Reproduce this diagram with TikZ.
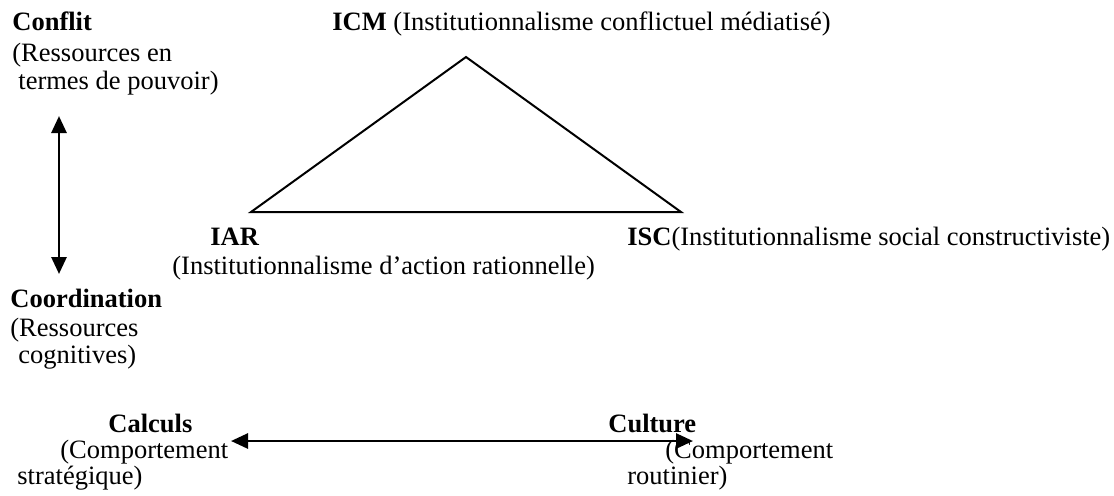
\documentclass[tikz,border=0pt]{standalone}
\usepackage{fontspec}
\setmainfont{Liberation Serif}
\usetikzlibrary{arrows.meta}
\tikzset{
    txt/.style={anchor=base west, inner sep=0pt, font=\fontsize{13.25}{15.2}\selectfont},
    dblarrow/.style={{Triangle[length=8.5pt,width=7.5pt]}-{Triangle[length=8.5pt,width=7.5pt]}, line width=1.4pt, black},
}
\newcommand{\Triangle}{
    \coordinate (icmpt) at (466,57);
    \coordinate (iarpt) at (251,212);
    \coordinate (iscpt) at (681,212);
    \draw[black, line width=1pt] (icmpt) -- (iscpt) -- (iarpt) -- cycle;
}
\begin{document}
\begin{tikzpicture}[x=0.5pt, y=-0.5pt]
        \useasboundingbox (0,0) rectangle (1114,495);
        \Triangle
        \node[txt] (icm) at (332,30) {\textbf{ICM} (Institutionnalisme conflictuel médiatisé)};
        \node[txt] (iar) at (210,245) {\textbf{IAR}};
        \node[txt] (iartxt) at (172,274) {(Institutionnalisme d’action rationnelle)};
        \node[txt] (isc) at (627,245) {\textbf{ISC}(Institutionnalisme social constructiviste)};
        \node[txt] (conflit) at (12,30) {\textbf{Conflit}};
        \node[txt] (conflitA) at (12,61) {(Ressources en};
        \node[txt] (conflitB) at (18,89) {termes de pouvoir)};
        \node[txt] (coord) at (10,307) {\textbf{Coordination}};
        \node[txt] (coordA) at (10,336) {(Ressources};
        \node[txt] (coordB) at (18,363) {cognitives)};
        \node[txt] (calculs) at (108,432) {\textbf{Calculs}};
        \node[txt] (calculsA) at (60,458) {(Comportement};
        \node[txt] (calculsB) at (17,484) {stratégique)};
        \node[txt] (culture) at (608,432) {\textbf{Culture}};
        \node[txt] (cultureA) at (665,458) {(Comportement};
        \node[txt] (cultureB) at (627,484) {routinier)};
        \coordinate (up) at (59,116);
        \coordinate (down) at (59,274);
        \coordinate (left) at (231,441);
        \coordinate (right) at (693,441);
        \draw[dblarrow] (up) -- (down);
        \draw[dblarrow] (left) -- (right);
    \end{tikzpicture}
\end{document}
